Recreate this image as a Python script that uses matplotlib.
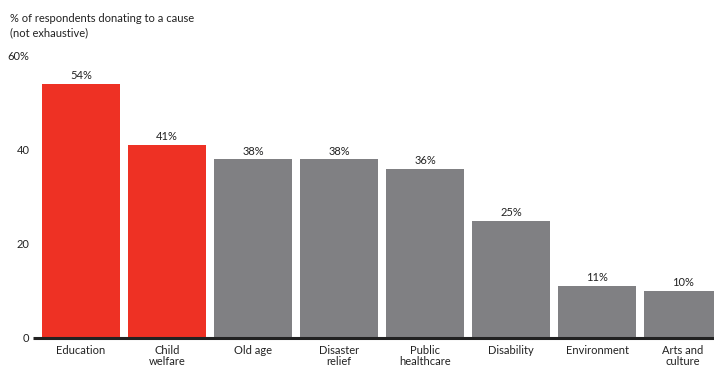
import matplotlib
matplotlib.use("Agg")
import matplotlib.pyplot as plt

categories = ["Education", "Child\nwelfare", "Old age", "Disaster\nrelief", "Public\nhealthcare",
              "Disability", "Environment", "Arts and\nculture"]
values = [54, 41, 38, 38, 36, 25, 11, 10]
highlight = [True, True, False, False, False, False, False, False]
yticks = [0, 20, 40, 60]
yticklabels = ["0", "20", "40", "60%"]

RED = "#EE3124"
GRAY = "#808083"
TXT = "#222222"
plt.rcParams['font.family'] = ['Lato', 'DejaVu Sans']

fig = plt.figure(figsize=(7.14, 3.66), dpi=100)
ax = fig.add_axes([35/714, 28/366, 1 - 35/714, 282/366])

x = list(range(len(categories)))
colors = [RED if h else GRAY for h in highlight]
ax.bar(x, values, width=0.905, color=colors, zorder=2)
for xi, v in zip(x, values):
    ax.text(xi, v + 0.6, f"{v}%", ha="center", va="bottom", fontsize=8, color=TXT)

ax.set_xlim(-0.535, 7.36)
ax.set_ylim(0, 60)
ax.set_yticks(yticks)
ax.set_yticklabels(yticklabels, fontsize=8, color=TXT)
ax.set_xticks(x)
ax.set_xticklabels(categories, fontsize=8, color=TXT, linespacing=1.05)
ax.tick_params(axis="y", length=0, pad=4)
ax.tick_params(axis="x", length=0, pad=5)
for s in ["top", "right", "left", "bottom"]:
    ax.spines[s].set_visible(False)
ax.plot([-0.56, 7.4], [0, 0], color="#222222", lw=2.2, clip_on=False, zorder=3, solid_capstyle="butt")

fig.text(10/714, 1 - 18/366, "% of respondents donating to a cause", fontsize=8, color=TXT, va="center")
fig.text(10/714, 1 - 33/366, "(not exhaustive)", fontsize=8, color=TXT, va="center")

fig.savefig("out.png", dpi=100)
